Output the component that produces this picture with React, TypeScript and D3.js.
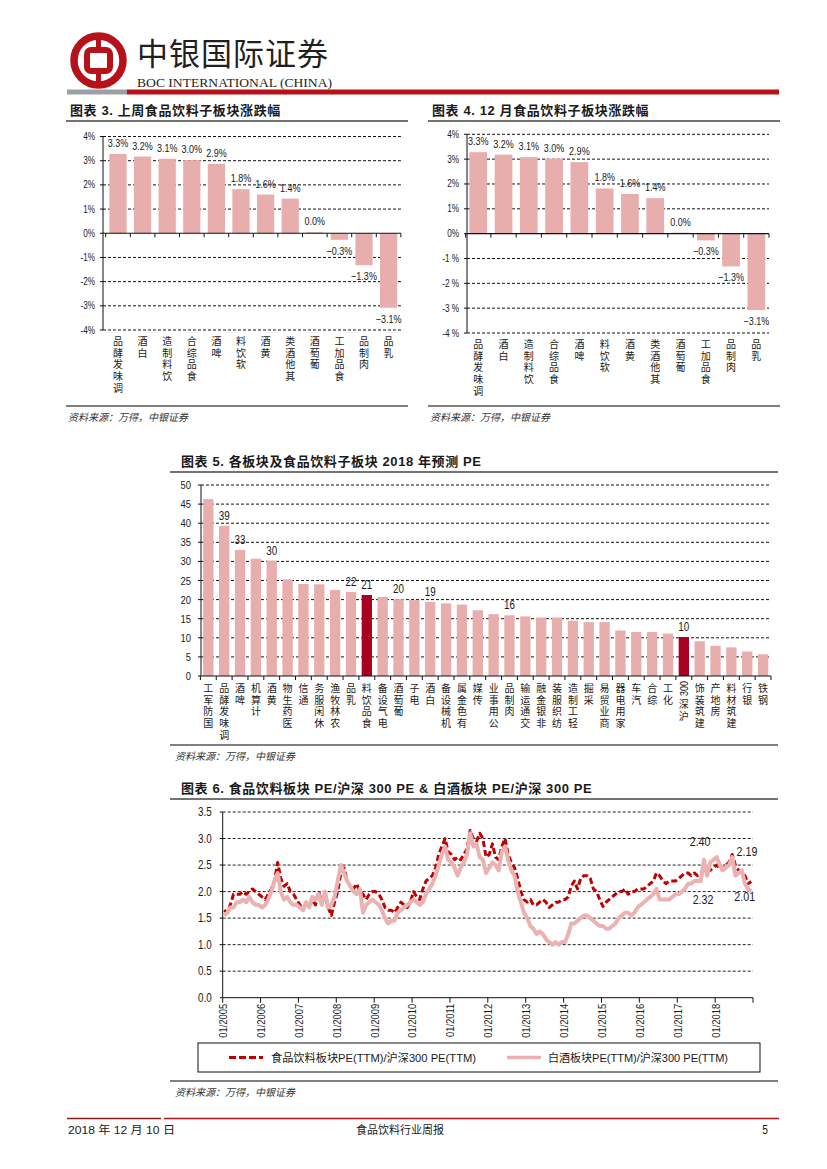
import React from "react";
import * as d3 from "d3";

// ---------------- data ----------------
const subSectors = ["调味发酵品", "白酒", "饮料制造", "食品综合", "啤酒", "软饮料", "黄酒", "其他酒类", "葡萄酒", "食品加工", "肉制品", "乳品"];
const weekChange = [3.28, 3.17, 3.08, 3.02, 2.87, 1.82, 1.6, 1.43, 0.04, -0.27, -1.32, -3.08];
const monthChange = [3.28, 3.18, 3.08, 3.02, 2.88, 1.82, 1.6, 1.43, 0.04, -0.27, -1.32, -3.08];
const pctTicks = [4, 3, 2, 1, 0, -1, -2, -3, -4];
const pctTickLabelsA = ["4%", "3%", "2%", "1%", "0%", "-1%", "-2%", "-3%", "-4%"];
const pctTickLabelsB = ["4%", "3%", "2%", "1%", "0%", "-1 %", "-2 %", "-3 %", "-4 %"];

const sectors = ["国防军工", "调味发酵品", "啤酒", "计算机", "黄酒", "医药生物", "通信", "休闲服务", "农林牧渔", "乳品", "食品饮料", "电气设备", "葡萄酒", "电子", "白酒", "机械设备", "有色金属", "传媒", "公用事业", "肉制品", "交通运输", "非银金融", "纺织服装", "轻工制造", "采掘", "商业贸易", "家用电器", "汽车", "综合", "化工", "沪深300", "建筑装饰", "房地产", "建筑材料", "银行", "钢铁"];
const pe2018 = [46.3, 39.3, 33.0, 30.7, 30.2, 25.3, 24.1, 24.0, 22.5, 22.0, 21.2, 20.7, 20.1, 19.9, 19.4, 19.0, 18.7, 17.2, 16.2, 15.9, 15.6, 15.3, 15.3, 14.5, 14.1, 14.1, 11.9, 11.5, 11.5, 11.1, 10.2, 9.1, 7.9, 7.5, 6.4, 5.7];
const highlightedSectors = ["食品饮料", "沪深300"];
const labelledSectors = ["调味发酵品", "啤酒", "黄酒", "乳品", "食品饮料", "葡萄酒", "白酒", "肉制品", "沪深300"];
const peTicks = [0, 5, 10, 15, 20, 25, 30, 35, 40, 45, 50];

// monthly ratios, Jan 2005 .. Dec 2018 (12 values per row)
const foodRatio = [
  1.65, 1.6, 1.75, 1.95, 1.95, 1.95, 2.0, 1.95, 2.0, 2.05, 2.0, 1.95,
  1.9, 1.85, 1.95, 2.05, 2.2, 2.55, 2.25, 2.1, 2.15, 2.0, 1.95, 1.85,
  1.75, 1.65, 1.8, 1.7, 1.85, 1.75, 2.0, 1.8, 1.9, 1.7, 1.55, 1.8,
  2.0, 2.35, 2.45, 2.2, 2.1, 2.05, 2.15, 2.0, 1.95, 1.85, 1.95, 2.0,
  2.0, 1.95, 1.85, 1.7, 1.65, 1.65, 1.6, 1.7, 1.8, 1.75, 1.7, 1.8,
  2.0, 1.9, 1.85, 2.05, 2.2, 2.25, 2.3, 2.45, 2.7, 2.85, 3.0, 2.75,
  2.7, 2.6, 2.65, 2.6, 2.7, 2.8, 3.15, 3.0, 2.95, 3.1, 3.0, 2.65,
  2.7, 2.9, 2.65, 2.6, 2.85, 3.0, 2.7, 2.55, 2.45, 2.25, 2.0, 1.85,
  1.8, 1.85, 1.75, 1.75, 1.8, 1.85, 1.8, 1.7, 1.75, 1.8, 1.8, 1.85,
  1.85, 1.9, 2.1, 2.2, 2.05, 2.25, 2.3, 2.3, 2.25, 2.05, 2.0, 1.85,
  1.72, 1.8, 1.85, 1.9, 1.95, 2.0, 2.0, 2.05, 1.95, 2.0, 2.0, 2.05,
  2.05, 2.05, 2.1, 2.15, 2.2, 2.35, 2.3, 2.2, 2.15, 2.2, 2.2, 2.2,
  2.25, 2.3, 2.35, 2.35, 2.3, 2.35, 2.3, 2.35, 2.4, 2.45, 2.4, 2.45,
  2.5, 2.45, 2.4, 2.5, 2.55, 2.7, 2.5, 2.4, 2.35, 2.3, 2.15, 2.19,
];
const baijiuRatio = [
  1.55, 1.6, 1.7, 1.7, 1.8, 1.8, 1.85, 1.8, 1.9, 1.8, 1.75, 1.75,
  1.7, 1.75, 1.85, 2.0, 2.2, 2.35, 2.0, 1.85, 1.9, 1.8, 1.75, 1.75,
  1.7, 1.65, 1.8, 1.7, 1.9, 1.85, 1.95, 1.75, 2.0, 1.7, 1.75, 1.9,
  2.2, 2.5, 2.35, 2.2, 2.1, 2.0, 1.95, 2.05, 1.6, 1.75, 1.8, 1.85,
  1.8, 1.75, 1.65, 1.5, 1.4, 1.45, 1.45, 1.6, 1.65, 1.7, 1.75, 1.8,
  1.85, 1.8, 1.75, 1.8, 1.95, 2.05, 2.15, 2.3, 2.5, 2.7, 2.85, 2.6,
  2.55, 2.45, 2.3, 2.45, 2.55, 2.7, 3.1, 2.85, 2.9, 2.65, 2.6, 2.35,
  2.45, 2.55, 2.5, 2.4, 2.75, 2.85, 2.6, 2.4, 2.3, 2.0, 1.8, 1.6,
  1.5, 1.35, 1.3, 1.2, 1.25, 1.2, 1.1, 1.05, 1.0, 1.05, 1.0, 1.05,
  1.05, 1.2, 1.4, 1.4, 1.45, 1.5, 1.55, 1.55, 1.5, 1.45, 1.4, 1.35,
  1.35, 1.3, 1.3, 1.35, 1.4, 1.5, 1.55, 1.6, 1.6, 1.55, 1.6, 1.7,
  1.75, 1.8, 1.85, 1.9, 1.95, 2.05, 1.85, 1.85, 1.85, 1.85, 1.9, 1.95,
  1.95, 2.0, 2.05, 2.15, 2.15, 2.2, 2.2, 2.2, 2.6, 2.3, 2.55, 2.6,
  2.65, 2.5, 2.4, 2.45, 2.5, 2.65, 2.3, 2.35, 2.4, 2.15, 2.05, 2.01,
];
const ratioStartYear = 2005;
const ratioTicks = [0, 0.5, 1.0, 1.5, 2.0, 2.5, 3.0, 3.5];
const yearTickLabels = ["01/2005", "01/2006", "01/2007", "01/2008", "01/2009", "01/2010", "01/2011", "01/2012", "01/2013", "01/2014", "01/2015", "01/2016", "01/2017", "01/2018"];
const ratioAnnotations = [
  { text: "2.40", year: 2017.6, value: 2.94 },
  { text: "2.19", year: 2018.84, value: 2.76 },
  { text: "2.32", year: 2017.68, value: 1.85 },
  { text: "2.01", year: 2018.78, value: 1.91 },
];
const legendItems = ["食品饮料板块PE(TTM)/沪深300 PE(TTM)", "白酒板块PE(TTM)/沪深300  PE(TTM)"];

// ---------------- styles ----------------
const SANS = "'Liberation Sans', Arial, 'Noto Sans CJK SC', sans-serif";
const CJK = "'Noto Sans CJK SC', sans-serif";
const TITLE = "'Liberation Sans', Arial, 'Noto Sans CJK SC', sans-serif";
const BAR = "#e8adad";
const BAR_HI = "#a80020";
const RED = "#c00000";
const PINK = "#ebb2b2";
const INK = "#1a1a1a";
const SQUEEZE = 0.82;

// condensed numeric text (narrow face emulated by horizontal scaling)
function NT({ x, y, children, anchor = "start", size = 10, rotate = 0, baseline, dy }: any) {
  return (
    <text
      transform={`translate(${x},${y})${rotate ? ` rotate(${rotate})` : ""} scale(${SQUEEZE},1)`}
      textAnchor={anchor}
      dominantBaseline={baseline}
      dy={dy}
      fontFamily={SANS}
      fontSize={size}
      fill={INK}
    >
      {children}
    </text>
  );
}

// vertical category label: reads bottom-to-top, CJK glyphs upright, last glyph next to the axis
function VLabel({ x, top, text, step = 11.7, size = 10 }: { x: number; top: number; text: string; step?: number; size?: number }) {
  const tokens = (text.match(/[\u4e00-\u9fff]|[^\u4e00-\u9fff]+/g) || []).slice().reverse();
  let cursor = top;
  const cjk: { ch: string; y: number }[] = [];
  const other: any[] = [];
  tokens.forEach((t, i) => {
    if (/[\u4e00-\u9fff]/.test(t)) {
      cjk.push({ ch: t, y: cursor + step / 2 });
      cursor += step;
    } else {
      const w = t.length * (size + 1) * 0.556 * SQUEEZE;
      other.push(
        <NT key={i} x={x} y={cursor} rotate={-90} anchor="end" baseline="central" size={size + 1}>
          {t}
        </NT>
      );
      cursor += w + 1.5;
    }
  });
  return (
    <g>
      {other}
      {cjk.length > 0 && (
        <text textAnchor="middle" dominantBaseline="central" fontFamily={CJK} fontSize={size} fill={INK}>
          {cjk.map((c, i) => (
            <tspan key={i} x={x} y={c.y}>
              {c.ch}
            </tspan>
          ))}
        </text>
      )}
    </g>
  );
}

function Title({ x, y, text, lineX0, lineX1 }: { x: number; y: number; text: string; lineX0: number; lineX1: number }) {
  return (
    <g>
      <text x={x} y={y} fontFamily={TITLE} fontWeight="bold" fontSize={13} letterSpacing={0.6} fill={INK}>
        {text}
      </text>
      <line x1={lineX0} x2={lineX1} y1={y + 6} y2={y + 6} stroke="#444" strokeWidth={1.5} />
    </g>
  );
}

function Source({ x, y, lineX0, lineX1 }: { x: number; y: number; lineX0: number; lineX1: number }) {
  return (
    <g>
      <line x1={lineX0} x2={lineX1} y1={y} y2={y} stroke="#808080" strokeWidth={2} />
      <text x={x} y={y + 15} fontFamily={CJK} fontStyle="italic" fontSize={10} fill="#333">
        资料来源：万得，中银证券
      </text>
    </g>
  );
}

function PctBarChart({ values, tickLabels, axisX, x0, x1, yTop, yBot }: any) {
  const y = d3.scaleLinear().domain([-4, 4]).range([yBot, yTop]);
  const x = d3.scaleBand().domain(subSectors).range([x0, x1]).paddingInner(0.3).paddingOuter(0.15);
  const step = x.step();
  const fmt = d3.format(".1f");
  return (
    <g>
      {pctTicks.filter((t) => t !== 0).map((t) => (
        <line key={t} x1={axisX} x2={x1} y1={y(t)} y2={y(t)} stroke="#111" strokeWidth={1} strokeDasharray="3,2" />
      ))}
      {subSectors.map((c, i) => {
        const v = values[i];
        return <rect key={c} x={x(c)} width={x.bandwidth()} y={Math.min(y(v), y(0))} height={Math.abs(y(v) - y(0))} fill={BAR} />;
      })}
      <line x1={axisX} x2={axisX} y1={yTop} y2={yBot} stroke="#111" strokeWidth={1} />
      {pctTicks.map((t, i) => (
        <g key={t}>
          <line x1={axisX - 3} x2={axisX} y1={y(t)} y2={y(t)} stroke="#111" />
          <NT x={axisX - 8} y={y(t)} dy="0.35em" anchor="end" size={10}>
            {tickLabels[i]}
          </NT>
        </g>
      ))}
      <line x1={axisX} x2={x1} y1={y(0)} y2={y(0)} stroke="#111" strokeWidth={1.2} />
      {d3.range(subSectors.length + 1).map((i) => {
        const bx = x0 + i * step;
        return <line key={i} x1={bx} x2={bx} y1={y(0)} y2={y(0) + 4} stroke="#111" />;
      })}
      {subSectors.map((c, i) => {
        const v = values[i];
        const cx = (x(c) as number) + x.bandwidth() / 2;
        const ty = v >= 0 ? y(v) - 7 : y(v) + 15;
        return (
          <NT key={c} x={cx} y={ty} anchor="middle" size={11}>
            {fmt(v)}%
          </NT>
        );
      })}
      {subSectors.map((c) => (
        <VLabel key={c} x={(x(c) as number) + x.bandwidth() / 2} top={yBot + 4} text={c} />
      ))}
    </g>
  );
}

function PEChart() {
  const axisX = 201;
  const x0 = 200.4;
  const x1 = 771;
  const y = d3.scaleLinear().domain([0, 50]).range([676, 485]);
  const x = d3.scaleBand().domain(sectors).range([x0, x1]).paddingInner(0.35).paddingOuter(0.175);
  const step = x.step();
  const fmt = d3.format(".0f");
  return (
    <g>
      {peTicks.filter((t) => t > 0).map((t) => (
        <line key={t} x1={axisX} x2={x1} y1={y(t)} y2={y(t)} stroke="#111" strokeWidth={1} strokeDasharray="3,2" />
      ))}
      {sectors.map((c, i) => (
        <rect key={c} x={x(c)} width={x.bandwidth()} y={y(pe2018[i])} height={y(0) - y(pe2018[i])} fill={highlightedSectors.includes(c) ? BAR_HI : BAR} />
      ))}
      <line x1={axisX} x2={axisX} y1={y(50)} y2={y(0)} stroke="#111" />
      <line x1={axisX} x2={x1} y1={y(0)} y2={y(0)} stroke="#111" strokeWidth={1.2} />
      {peTicks.map((t) => (
        <g key={t}>
          <line x1={axisX - 3} x2={axisX} y1={y(t)} y2={y(t)} stroke="#111" />
          <NT x={axisX - 10} y={y(t)} dy="0.35em" anchor="end" size={11.5}>
            {t}
          </NT>
        </g>
      ))}
      {d3.range(sectors.length + 1).map((i) => {
        const bx = x0 + i * step;
        return <line key={i} x1={bx} x2={bx} y1={y(0)} y2={y(0) + 4} stroke="#111" />;
      })}
      {sectors.map((c, i) =>
        labelledSectors.includes(c) ? (
          <NT key={c} x={(x(c) as number) + x.bandwidth() / 2} y={y(pe2018[i]) - 6} anchor="middle" size={12}>
            {fmt(pe2018[i])}
          </NT>
        ) : null
      )}
      {sectors.map((c) => (
        <VLabel key={c} x={(x(c) as number) + x.bandwidth() / 2} top={y(0) + 5} text={c} />
      ))}
    </g>
  );
}

function RatioChart() {
  const axisX = 222.7;
  const xEnd = 753;
  const x = d3.scaleTime().domain([new Date(2005, 0, 1), new Date(2019, 0, 1)]).range([axisX, xEnd]);
  const y = d3.scaleLinear().domain([0, 3.5]).range([997.7, 812]);
  const dateOf = (i: number) => new Date(ratioStartYear, i, 15);
  const line = d3
    .line<number>()
    .x((_, i) => x(dateOf(i)))
    .y((d) => y(d));
  const yearOf = (yr: number) => {
    const whole = Math.floor(yr);
    return new Date(whole, 0, 1 + Math.round((yr - whole) * 365));
  };
  const years = d3.range(2005, 2020);
  return (
    <g>
      {ratioTicks.filter((t) => t > 0).map((t) => (
        <line key={t} x1={axisX} x2={xEnd} y1={y(t)} y2={y(t)} stroke="#222" strokeWidth={1} strokeDasharray="3,2" />
      ))}
      <line x1={axisX} x2={axisX} y1={y(3.5)} y2={y(0)} stroke="#111" />
      <line x1={axisX} x2={xEnd} y1={y(0)} y2={y(0)} stroke="#111" />
      {ratioTicks.map((t) => (
        <g key={t}>
          <line x1={axisX - 3} x2={axisX} y1={y(t)} y2={y(t)} stroke="#111" />
          <NT x={axisX - 11} y={y(t)} dy="0.35em" anchor="end" size={12}>
            {d3.format(".1f")(t)}
          </NT>
        </g>
      ))}
      {years.map((yr) => {
        const px = x(new Date(yr, 0, 1));
        return <line key={yr} x1={px} x2={px} y1={y(0)} y2={y(0) + 5} stroke="#111" />;
      })}
      {yearTickLabels.map((lab, i) => {
        const px = x(new Date(2005 + i, 0, 1));
        return (
          <NT key={lab} x={px} y={y(0) + 6} rotate={-90} anchor="end" baseline="central" size={11.5}>
            {lab}
          </NT>
        );
      })}
      <path d={line(foodRatio) || ""} fill="none" stroke={RED} strokeWidth={3} strokeDasharray="6,3" strokeLinejoin="round" />
      <path d={line(baijiuRatio) || ""} fill="none" stroke={PINK} strokeWidth={4} strokeLinejoin="round" />
      {ratioAnnotations.map((a) => (
        <NT key={a.text} x={x(yearOf(a.year))} y={y(a.value)} dy="0.35em" anchor="middle" size={13}>
          {a.text}
        </NT>
      ))}
      <rect x={198} y={1043} width={562} height={29} fill="none" stroke="#111" strokeWidth={1} />
      <line x1={229} x2={263} y1={1057.5} y2={1057.5} stroke={RED} strokeWidth={3} strokeDasharray="7,3" />
      <text x={271} y={1061.5} fontFamily={SANS} fontSize={11} fill={INK} textLength={205} lengthAdjust="spacingAndGlyphs">
        {legendItems[0]}
      </text>
      <line x1={507} x2={541} y1={1057.5} y2={1057.5} stroke={PINK} strokeWidth={3.5} />
      <text x={548} y={1061.5} fontFamily={SANS} fontSize={11} fill={INK} textLength={180} lengthAdjust="spacingAndGlyphs">
        {legendItems[1]}
      </text>
    </g>
  );
}

function Header() {
  const red = "#b5121b";
  return (
    <g>
      <circle cx={98.5} cy={60.5} r={24.5} fill="none" stroke={red} strokeWidth={7.5} />
      <rect x={87} y={50} width={23} height={21} rx={4} fill="none" stroke={red} strokeWidth={6} />
      <rect x={96} y={34} width={5} height={14} fill={red} />
      <rect x={96} y={73} width={5} height={15} fill={red} />
      <text x={137} y={65} fontFamily={CJK} fontSize={31} fill="#231f20" letterSpacing={1}>
        中银国际证券
      </text>
      <text x={137} y={87} fontFamily="'Liberation Serif', 'Times New Roman', serif" fontSize={13.5} fill="#231f20" textLength={195} lengthAdjust="spacingAndGlyphs">
        BOC INTERNATIONAL (CHINA)
      </text>
      <rect x={67} y={89.5} width={60} height={5} fill="#9d9fa2" />
      <rect x={127} y={89.5} width={652} height={5} fill={red} />
    </g>
  );
}

function Footer() {
  return (
    <g>
      <line x1={67} x2={161} y1={1118.5} y2={1118.5} stroke="#8b1a1a" strokeWidth={1.5} />
      <line x1={164} x2={779} y1={1118.5} y2={1118.5} stroke="#b5121b" strokeWidth={1.5} />
      <text x={68} y={1134} fontFamily={SANS} fontSize={11.5} fill={INK} textLength={107} lengthAdjust="spacingAndGlyphs">
        2018 年 12 月 10 日
      </text>
      <text x={400} y={1134} textAnchor="middle" fontFamily={CJK} fontSize={11} fill={INK}>
        食品饮料行业周报
      </text>
      <NT x={765} y={1134} anchor="middle" size={12.5}>
        5
      </NT>
    </g>
  );
}

export default function App() {
  return (
    <svg width={827} height={1169} viewBox="0 0 827 1169" style={{ position: "absolute", left: 0, top: 0, display: "block", background: "#fff" }}>
      <rect x={0} y={0} width={827} height={1169} fill="#fff" />
      <Header />
      <Title x={70} y={115} text="图表 3. 上周食品饮料子板块涨跌幅" lineX0={66} lineX1={408} />
      <Title x={432} y={115} text="图表 4. 12 月食品饮料子板块涨跌幅" lineX0={428} lineX1={780} />
      <PctBarChart values={weekChange} tickLabels={pctTickLabelsA} axisX={103} x0={105.7} x1={400.9} yTop={136.5} yBot={330} />
      <PctBarChart values={monthChange} tickLabels={pctTickLabelsB} axisX={467} x0={465.6} x1={769} yTop={134.3} yBot={333} />
      <Source x={68} y={406} lineX0={66} lineX1={408} />
      <Source x={430} y={406} lineX0={428} lineX1={780} />
      <Title x={181} y={466} text="图表 5. 各板块及食品饮料子板块 2018 年预测 PE" lineX0={170} lineX1={778} />
      <PEChart />
      <Source x={175} y={745} lineX0={170} lineX1={778} />
      <Title x={181} y={793} text="图表 6. 食品饮料板块 PE/沪深 300 PE & 白酒板块 PE/沪深 300 PE" lineX0={170} lineX1={778} />
      <RatioChart />
      <Source x={175} y={1081} lineX0={170} lineX1={778} />
      <Footer />
    </svg>
  );
}
